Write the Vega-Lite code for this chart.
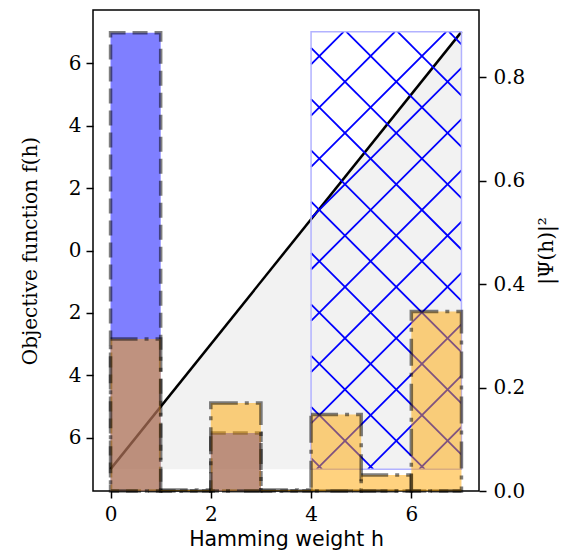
{
  "$schema": "https://vega.github.io/schema/vega-lite/v6.json",
  "width": 386,
  "height": 481,
  "autosize": {"type": "none"},
  "padding": {"left": 93, "top": 10, "right": 86, "bottom": 67},
  "background": "white",
  "datasets": {
    "objective": [{"h": 0, "f": -7}, {"h": 7, "f": 7}],
    "box": [{"h0": 4, "h1": 7, "f0": -7, "f1": 7}],
    "hatch": [
      {"xa": 6.754, "ya": 7, "xb": 7, "yb": 6.602},
      {"xa": 5.730, "ya": 7, "xb": 7, "yb": 4.959},
      {"xa": 4.707, "ya": 7, "xb": 7, "yb": 3.317},
      {"xa": 4, "ya": 6.490, "xb": 7, "yb": 1.675},
      {"xa": 4, "ya": 4.847, "xb": 7, "yb": 0.032},
      {"xa": 4, "ya": 3.205, "xb": 7, "yb": -1.610},
      {"xa": 4, "ya": 1.562, "xb": 7, "yb": -3.253},
      {"xa": 4, "ya": -0.080, "xb": 7, "yb": -4.895},
      {"xa": 4, "ya": -1.722, "xb": 7, "yb": -6.538},
      {"xa": 4, "ya": -3.365, "xb": 6.265, "yb": -7},
      {"xa": 4, "ya": -5.007, "xb": 5.241, "yb": -7},
      {"xa": 4, "ya": -6.650, "xb": 4.218, "yb": -7},
      {"xa": 4, "ya": 5.962, "xb": 4.647, "yb": 7},
      {"xa": 4, "ya": 4.319, "xb": 5.670, "yb": 7},
      {"xa": 4, "ya": 2.677, "xb": 6.694, "yb": 7},
      {"xa": 4, "ya": 1.034, "xb": 7, "yb": 5.849},
      {"xa": 4, "ya": -0.608, "xb": 7, "yb": 4.207},
      {"xa": 4, "ya": -2.251, "xb": 7, "yb": 2.565},
      {"xa": 4, "ya": -3.893, "xb": 7, "yb": 0.922},
      {"xa": 4, "ya": -5.536, "xb": 7, "yb": -0.720},
      {"xa": 4.112, "ya": -7, "xb": 7, "yb": -2.363},
      {"xa": 5.136, "ya": -7, "xb": 7, "yb": -4.005},
      {"xa": 6.159, "ya": -7, "xb": 7, "yb": -5.648}
    ],
    "probs": [
      {"h": 0, "h1": 1, "blue": 0.886, "orange": 0.294},
      {"h": 1, "h1": 2, "blue": 0.0, "orange": 0.002},
      {"h": 2, "h1": 3, "blue": 0.112, "orange": 0.170},
      {"h": 3, "h1": 4, "blue": 0.0, "orange": 0.002},
      {"h": 4, "h1": 5, "blue": 0.0, "orange": 0.148},
      {"h": 5, "h1": 6, "blue": 0.0, "orange": 0.031},
      {"h": 6, "h1": 7, "blue": 0.0, "orange": 0.347}
    ]
  },
  "layer": [
    {
      "layer": [
        {
          "data": {"name": "objective"},
          "mark": {"type": "area", "color": "#f2f2f2", "opacity": 1},
          "encoding": {
            "x": {"field": "h", "type": "quantitative",
                  "scale": {"domain": [-0.35, 7.35], "nice": false, "zero": false},
                  "axis": {"values": [0, 2, 4, 6], "format": "d", "title": "Hamming weight h",
                           "titleFont": "DejaVu Sans", "titleFontSize": 20.5, "labelPadding": 6, "titlePadding": 5}},
            "y": {"field": "f", "type": "quantitative",
                  "scale": {"domain": [-7.7, 7.7], "nice": false, "zero": false},
                  "axis": {"orient": "left", "values": [-6, -4, -2, 0, 2, 4, 6],
                           "labelExpr": "format(abs(datum.value), 'd')",
                           "title": "Objective function f(h)", "labelPadding": 5, "titlePadding": 28}},
            "y2": {"datum": -7}
          }
        },
        {
          "data": {"name": "objective"},
          "mark": {"type": "line", "color": "black", "strokeWidth": 2.5},
          "encoding": {
            "x": {"field": "h", "type": "quantitative"},
            "y": {"field": "f", "type": "quantitative"}
          }
        },
        {
          "data": {"name": "hatch"},
          "mark": {"type": "rule", "color": "#0000ff", "strokeWidth": 1.8},
          "encoding": {
            "x": {"field": "xa", "type": "quantitative"},
            "y": {"field": "ya", "type": "quantitative"},
            "x2": {"field": "xb"},
            "y2": {"field": "yb"}
          }
        },
        {
          "data": {"name": "box"},
          "mark": {"type": "rect", "fillOpacity": 0, "fill": "white", "stroke": "#b2b2ff", "strokeWidth": 1.5},
          "encoding": {
            "x": {"field": "h0", "type": "quantitative"},
            "x2": {"field": "h1"},
            "y": {"field": "f0", "type": "quantitative"},
            "y2": {"field": "f1"}
          }
        }
      ]
    },
    {
      "layer": [
        {
          "data": {"name": "probs"},
          "mark": {"type": "rect", "fill": "#0000ff", "fillOpacity": 0.5, "stroke": "black",
                   "strokeOpacity": 0.5, "strokeWidth": 3.5, "strokeDash": [15, 7]},
          "encoding": {
            "x": {"field": "h", "type": "quantitative"},
            "x2": {"field": "h1"},
            "y": {"field": "blue", "type": "quantitative",
                  "scale": {"domain": [0, 0.93], "nice": false, "zero": false},
                  "axis": {"orient": "right", "values": [0, 0.2, 0.4, 0.6, 0.8], "format": ".1f",
                           "title": "|Ψ(h)|²", "titleAngle": 270, "titleBaseline": "top",
                           "labelPadding": 7, "titlePadding": 12}},
            "y2": {"datum": 0}
          }
        },
        {
          "data": {"name": "probs"},
          "mark": {"type": "rect", "fill": "#ffa500", "fillOpacity": 0.5, "stroke": "black",
                   "strokeOpacity": 0.5, "strokeWidth": 3.5, "strokeDash": [27, 7, 4, 7]},
          "encoding": {
            "x": {"field": "h", "type": "quantitative"},
            "x2": {"field": "h1"},
            "y": {"field": "orange", "type": "quantitative"},
            "y2": {"datum": 0}
          }
        }
      ]
    }
  ],
  "resolve": {"scale": {"y": "independent"}},
  "config": {
    "view": {"stroke": "black", "strokeWidth": 1.5},
    "axis": {
      "domain": false, "grid": false,
      "tickColor": "black", "tickSize": 7, "tickWidth": 1.5,
      "labelFont": "DejaVu Serif", "labelFontSize": 20, "labelColor": "black",
      "titleFont": "DejaVu Serif", "titleFontSize": 20, "titleFontWeight": "normal", "titleColor": "black"
    }
  }
}
